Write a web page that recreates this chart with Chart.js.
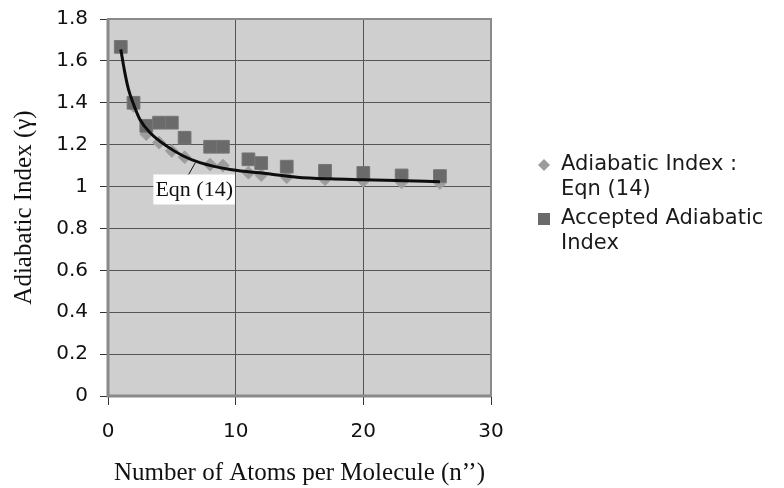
<!DOCTYPE html>
<html>
<head>
<meta charset="utf-8">
<script src="https://cdn.jsdelivr.net/npm/chart.js@4/dist/chart.umd.min.js"></script>
<style>
  html, body { margin: 0; padding: 0; background: #fff; }
  #wrap { width: 784px; height: 488px; position: relative; }
</style>
</head>
<body>
<div id="wrap"><canvas id="chart" width="784" height="488"></canvas></div>
<script>
// atoms per molecule (n'')
const atomsN = [1, 2, 3, 4, 5, 6, 8, 9, 11, 12, 14, 17, 20, 23, 26];
// adiabatic index from Eqn (14)
const eqnGamma = [1.667, 1.385, 1.25, 1.21, 1.17, 1.14, 1.105, 1.1, 1.066, 1.055, 1.045, 1.035, 1.028, 1.02, 1.017];
// accepted adiabatic index
const acceptedGamma = [1.667, 1.4, 1.29, 1.305, 1.305, 1.233, 1.19, 1.19, 1.13, 1.112, 1.095, 1.075, 1.065, 1.053, 1.05];
// fitted curve labelled "Eqn (14)"
const curveN = [1, 1.3, 1.6, 2, 2.5, 3.3, 4.6, 5.9, 7.2, 9.7, 12.2, 14.8, 17.4, 20, 22.6, 26];
const curveGamma = [1.655, 1.55, 1.465, 1.393, 1.32, 1.257, 1.193, 1.146, 1.114, 1.08, 1.063, 1.045, 1.037, 1.033, 1.029, 1.023];

const yTickLabels = ['0', '0.2', '0.4', '0.6', '0.8', '1', '1.2', '1.4', '1.6', '1.8'];
const xTickLabels = ['0', '10', '20', '30'];

const legendItems = [
  { lines: ['Adiabatic Index :', 'Eqn (14)'], style: 'diamond', color: '#9c9c9c' },
  { lines: ['Accepted Adiabatic', 'Index'], style: 'square', color: '#6a6a6a' }
];

const sansFont = '"DejaVu Sans", Verdana, sans-serif';
const serifFont = '"Liberation Serif", "Times New Roman", serif';

const toPoints = (xs, ys) => xs.map((x, i) => ({ x: x, y: ys[i] }));

// grey plot area with its frame
const plotArea = {
  id: 'plotArea',
  beforeDraw(chart) {
    const { ctx, chartArea: a } = chart;
    ctx.save();
    ctx.fillStyle = '#cfcfcf';
    ctx.fillRect(a.left, a.top, a.right - a.left, a.bottom - a.top);
    ctx.restore();
  },
  beforeDatasetsDraw(chart) {
    const { ctx, chartArea: a } = chart;
    ctx.save();
    ctx.strokeStyle = '#8a8a8a';
    ctx.lineWidth = 2;
    ctx.strokeRect(a.left, a.top, a.right - a.left, a.bottom - a.top);
    ctx.lineWidth = 3;
    ctx.beginPath();
    ctx.moveTo(a.left, a.top);
    ctx.lineTo(a.left, a.bottom);
    ctx.lineTo(a.right, a.bottom);
    ctx.stroke();
    ctx.restore();
  }
};

// "Eqn (14)" callout with its leader line
const callout = {
  id: 'callout',
  afterDraw(chart) {
    const { ctx, scales: { x, y } } = chart;
    const px = (v) => x.getPixelForValue(v);
    const py = (v) => y.getPixelForValue(v);
    ctx.save();
    ctx.strokeStyle = '#111';
    ctx.lineWidth = 1;
    ctx.beginPath();
    ctx.moveTo(px(6.2), py(1.045));
    ctx.lineTo(px(6.85), py(1.115));
    ctx.stroke();
    ctx.font = '22px ' + serifFont;
    ctx.textAlign = 'center';
    ctx.textBaseline = 'middle';
    const cx = px(6.75), cy = py(0.986);
    const w = ctx.measureText('Eqn (14)').width + 4;
    ctx.fillStyle = '#fff';
    ctx.fillRect(cx - w / 2, cy - 15, w, 30);
    ctx.fillStyle = '#111';
    ctx.fillText('Eqn (14)', cx, cy + 1);
    ctx.restore();
  }
};

// two-line legend to the right of the plot
const sideLegend = {
  id: 'sideLegend',
  afterDraw(chart) {
    const { ctx } = chart;
    ctx.save();
    ctx.font = '21px ' + sansFont;
    ctx.textBaseline = 'middle';
    ctx.textAlign = 'left';
    let top = 165;
    legendItems.forEach((item) => {
      const mx = 544, my = top;
      ctx.fillStyle = item.color;
      if (item.style === 'diamond') {
        ctx.beginPath();
        ctx.moveTo(mx, my - 6);
        ctx.lineTo(mx + 6, my);
        ctx.lineTo(mx, my + 6);
        ctx.lineTo(mx - 6, my);
        ctx.closePath();
        ctx.fill();
      } else {
        ctx.fillRect(mx - 6, my - 6, 12, 12);
      }
      ctx.fillStyle = '#1a1a1a';
      item.lines.forEach((line, i) => ctx.fillText(line, 561, my + i * 25));
      top += 54;
    });
    ctx.restore();
  }
};

new Chart(document.getElementById('chart'), {
  type: 'scatter',
  data: {
    datasets: [
      {
        label: 'Eqn (14) curve',
        data: toPoints(curveN, curveGamma),
        showLine: true,
        borderColor: '#0d0d0d',
        borderWidth: 3,
        pointRadius: 0,
        cubicInterpolationMode: 'monotone',
        order: 0
      },
      {
        label: 'Accepted Adiabatic Index',
        data: toPoints(atomsN, acceptedGamma),
        pointStyle: 'rect',
        pointRadius: 9,
        backgroundColor: '#6a6a6a',
        borderColor: '#767676',
        borderWidth: 1,
        order: 1
      },
      {
        label: 'Adiabatic Index : Eqn (14)',
        data: toPoints(atomsN, eqnGamma),
        pointStyle: 'rectRot',
        pointRadius: 6.5,
        backgroundColor: '#9c9c9c',
        borderColor: '#a4a4a4',
        borderWidth: 1,
        order: 2
      }
    ]
  },
  options: {
    responsive: false,
    animation: false,
    devicePixelRatio: 1,
    layout: { padding: { top: 19, right: 293, left: 0, bottom: 0 } },
    plugins: {
      legend: { display: false },
      tooltip: { enabled: false }
    },
    scales: {
      x: {
        type: 'linear',
        min: 0,
        max: 30,
        afterFit: (scale) => { scale.height = 92; },
        ticks: {
          stepSize: 10,
          padding: 15,
          color: '#111',
          font: { family: sansFont, size: 20 },
          callback: (v) => xTickLabels[Math.round(v / 10)]
        },
        grid: { color: '#555', lineWidth: 1, tickLength: 9, tickColor: '#333' },
        border: { display: false },
        title: {
          display: true,
          text: 'Number of Atoms per Molecule (n’’)',
          color: '#111',
          font: { family: serifFont, size: 25 },
          padding: { top: 0, bottom: 0 }
        }
      },
      y: {
        type: 'linear',
        min: 0,
        max: 1.8,
        afterFit: (scale) => {
          scale.width = 108;
          scale.paddingTop = 0;
          scale.paddingBottom = 0;
        },
        ticks: {
          stepSize: 0.2,
          padding: 12,
          color: '#111',
          font: { family: sansFont, size: 20 },
          callback: (v) => yTickLabels[Math.round(v / 0.2)]
        },
        grid: { color: '#555', lineWidth: 1, tickLength: 8, tickColor: '#333' },
        border: { display: false },
        title: {
          display: true,
          text: 'Adiabatic Index (γ)',
          color: '#111',
          font: { family: serifFont, size: 25 },
          padding: { top: 9, bottom: 0 }
        }
      }
    }
  },
  plugins: [plotArea, callout, sideLegend]
});
</script>
</body>
</html>
